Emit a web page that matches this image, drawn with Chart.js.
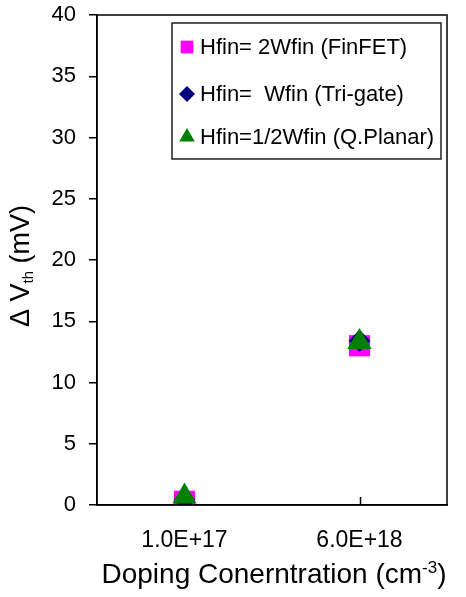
<!DOCTYPE html>
<html>
<head>
<meta charset="utf-8">
<script src="https://cdn.jsdelivr.net/npm/chart.js@4"></script>
<style>
  html, body { margin: 0; padding: 0; background: #fff; }
</style>
</head>
<body>
<canvas id="myChart" width="466" height="597"></canvas>
<script>
// data
const categories = ["1.0E+17", "6.0E+18"];
const finfetValues = [0.3, 13.0];
const trigateValues = [0.4, 13.4];
const planarValues = [0.7, 13.3];
const seriesLabels = [
  "Hfin= 2Wfin (FinFET)",
  "Hfin=  Wfin (Tri-gate)",
  "Hfin=1/2Wfin (Q.Planar)",
];
const yTicks = [0, 5, 10, 15, 20, 25, 30, 35, 40];

const FONT = "'Liberation Sans', Arial, sans-serif";

// plot frame + the little tick on the category axis
const framePlugin = {
  id: "frame",
  afterDatasetsDraw(chart) {
    const { ctx, chartArea: a } = chart;
    ctx.save();
    ctx.strokeStyle = "#000";
    ctx.lineWidth = 1.5;
    ctx.strokeRect(a.left, a.top, a.right - a.left, a.bottom - a.top);
    const tx = Math.round(chart.scales.x.getPixelForValue(1));
    ctx.beginPath();
    ctx.moveTo(tx + 0.5, a.bottom);
    ctx.lineTo(tx + 0.5, a.bottom - 8);
    ctx.stroke();
    ctx.restore();
  },
};

// boxed legend inside the plot, top right
const boxLegendPlugin = {
  id: "boxLegend",
  afterDraw(chart) {
    const { ctx, chartArea: a } = chart;
    const right = a.right - 6;
    const top = a.top + 8;
    const w = 269;
    const h = 136;
    const left = right - w;
    ctx.save();
    ctx.fillStyle = "#fff";
    ctx.fillRect(left, top, w, h);
    ctx.strokeStyle = "#222";
    ctx.lineWidth = 1.5;
    ctx.strokeRect(left, top, w, h);
    const rows = [24, 71, 114];
    const sizes = [9, 8, 9];
    chart.data.datasets.forEach((ds, i) => {
      const y = top + rows[i];
      ctx.fillStyle = ds.backgroundColor;
      Chart.helpers.drawPoint(
        ctx,
        { pointStyle: ds.pointStyle, radius: sizes[i], rotation: 0, borderWidth: 0 },
        left + 15,
        y
      );
      ctx.fillStyle = "#000";
      ctx.font = "22px " + FONT;
      ctx.textBaseline = "middle";
      ctx.textAlign = "left";
      ctx.fillText(ds.label, left + 28, y + 1);
    });
    ctx.restore();
  },
};

// axis titles with sub / superscripts
const axisTitlePlugin = {
  id: "axisTitles",
  afterDraw(chart) {
    const { ctx, chartArea: a } = chart;
    ctx.save();
    ctx.fillStyle = "#000";
    ctx.textBaseline = "alphabetic";
    ctx.textAlign = "left";

    // x title
    const big = "28px " + FONT;
    const small = "17px " + FONT;
    const p1 = "Doping Conerntration (cm";
    const p2 = "-3";
    const p3 = ")";
    ctx.font = big;
    const w1 = ctx.measureText(p1).width;
    const w3 = ctx.measureText(p3).width;
    ctx.font = small;
    const w2 = ctx.measureText(p2).width;
    let x = (a.left + a.right) / 2 - (w1 + w2 + w3) / 2 + 2;
    const by = 583;
    ctx.font = big;
    ctx.fillText(p1, x, by);
    x += w1;
    ctx.font = small;
    ctx.fillText(p2, x, by - 10);
    x += w2;
    ctx.font = big;
    ctx.fillText(p3, x, by);

    // y title
    const yb = "27px " + FONT;
    const ys = "15px " + FONT;
    const q1 = "\u0394 V";
    const q2 = "th";
    const q3 = " (mV)";
    ctx.font = yb;
    const v1 = ctx.measureText(q1).width;
    const v3 = ctx.measureText(q3).width;
    ctx.font = ys;
    const v2 = ctx.measureText(q2).width;
    ctx.translate(29, 266);
    ctx.rotate(-Math.PI / 2);
    let s = -(v1 + v2 + v3) / 2;
    ctx.font = yb;
    ctx.fillText(q1, s, 0);
    s += v1;
    ctx.font = ys;
    ctx.fillText(q2, s, 4);
    s += v2;
    ctx.font = yb;
    ctx.fillText(q3, s, 0);
    ctx.restore();
  },
};

const ctx = document.getElementById("myChart");
const myChart = new Chart(ctx, {
  type: "line",
  data: {
    labels: categories,
    datasets: [
      {
        label: seriesLabels[0],
        data: finfetValues,
        pointStyle: "rect",
        pointRadius: 15,
        backgroundColor: "#ff00ff",
        borderColor: "#ff00ff",
        pointBorderWidth: 0,
        showLine: false,
        order: 3,
      },
      {
        label: seriesLabels[1],
        data: trigateValues,
        pointStyle: "rectRot",
        pointRadius: 11,
        backgroundColor: "#000080",
        borderColor: "#000080",
        pointBorderWidth: 0,
        showLine: false,
        order: 2,
      },
      {
        label: seriesLabels[2],
        data: planarValues,
        pointStyle: "triangle",
        pointRadius: 14,
        backgroundColor: "#008000",
        borderColor: "#008000",
        pointBorderWidth: 0,
        showLine: false,
        order: 1,
      },
    ],
  },
  options: {
    responsive: false,
    animation: false,
    layout: { padding: { top: 13, right: 19, left: 0, bottom: 0 } },
    plugins: {
      legend: { display: false },
      tooltip: { enabled: false },
    },
    scales: {
      x: {
        type: "category",
        offset: true,
        grid: { display: false, drawTicks: false },
        border: { display: true, color: "#000", width: 1.5 },
        ticks: {
          color: "#000",
          font: { family: FONT, size: 23 },
          padding: 22,
          maxRotation: 0,
        },
        afterFit(scale) {
          scale.height = 92;
          scale.paddingLeft = 0;
          scale.paddingRight = 0;
        },
      },
      y: {
        min: 0,
        max: 40,
        afterBuildTicks(scale) {
          scale.ticks = yTicks.map((v) => ({ value: v }));
        },
        grid: {
          drawOnChartArea: false,
          drawTicks: true,
          tickLength: 8,
          color: "#000",
          lineWidth: 1.5,
        },
        border: { display: true, color: "#000", width: 1.5 },
        ticks: {
          color: "#000",
          font: { family: FONT, size: 22 },
          padding: 13,
        },
        afterFit(scale) {
          scale.width = 97;
          scale.paddingTop = 0;
          scale.paddingBottom = 0;
        },
      },
    },
  },
  plugins: [framePlugin, boxLegendPlugin, axisTitlePlugin],
});
</script>
</body>
</html>
